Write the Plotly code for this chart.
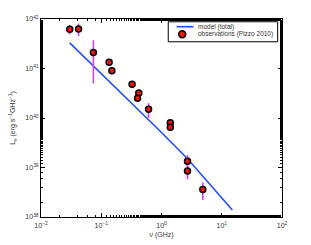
import plotly.graph_objects as go

# observations (Pizzo 2010)
obs_nu = [0.030, 0.042, 0.074, 0.135, 0.150, 0.325, 0.42, 0.40, 0.61, 1.40, 1.40, 2.70, 2.70, 4.85]
obs_L = [6.2e41, 6.3e41, 2.1e41, 1.33e41, 9.0e40, 4.8e40, 3.2e40, 2.5e40, 1.5e40, 8.0e39, 6.5e39, 1.33e39, 8.5e38, 3.6e38]
obs_err = [1.3e41, 1.8e41, 1.6e41, 5e39, 4e39, 2e39, 1.5e39, 1.2e39, 0.5e40, 0.4e39, 0.3e39, 0.45e39, 0.27e39, 1.4e38]

# model (total)
model_nu = [0.03, 0.3, 1.0, 2.7, 6.8, 15.0]
model_L = [3.3e41, 2.15e40, 5.1e39, 1.5e39, 4.1e38, 1.38e38]

xticks = [0.01, 0.1, 1, 10, 100]
xticklabels = ["10<sup>−2</sup>", "10<sup>−1</sup>", "10<sup>0</sup>", "10<sup>1</sup>", "10<sup>2</sup>"]
yticks = [1e38, 1e39, 1e40, 1e41, 1e42]
yticklabels = ["10<sup>38</sup>", "10<sup>39</sup>", "10<sup>40</sup>", "10<sup>41</sup>", "10<sup>42</sup>"]

legend_labels = ["model (total)", "observations (Pizzo 2010)"]

font = "Liberation Sans, Arial, sans-serif"
txtcol = "#333333"
line_col = "#2450f0"
mk_col = "#ee1111"

fig = go.Figure()
fig.add_trace(go.Scatter(
    x=model_nu, y=model_L, mode="lines", name=legend_labels[0],
    line=dict(color=line_col, width=1.6), showlegend=False,
))
fig.add_trace(go.Scatter(
    x=obs_nu, y=obs_L, mode="markers", name=legend_labels[1],
    marker=dict(color=mk_col, size=6, line=dict(color="black", width=1.5)),
    error_y=dict(type="data", array=obs_err, color="#cc44ee", thickness=1.6, width=0),
    showlegend=False,
))

axis_common = dict(
    type="log", showgrid=False, zeroline=False, automargin=False,
    showline=True, linecolor="black", linewidth=1, mirror="ticks",
    ticks="inside", ticklen=4, tickcolor="black",
    tickfont=dict(size=7, color=txtcol, family=font),
    minor=dict(ticks="inside", ticklen=2, tickcolor="black"),
)

fig.update_xaxes(
    **axis_common, range=[-2, 2], tickvals=xticks, ticktext=xticklabels,
    ticklabelstandoff=2,
    title=dict(text="ν (GHz)", font=dict(size=7, color=txtcol, family=font), standoff=3),
)
fig.update_yaxes(
    **axis_common, range=[38, 42], tickvals=yticks, ticktext=yticklabels,
    title=dict(text="L<sub>ν</sub> (erg s<sup>−1</sup>GHz<sup>−1</sup>)",
               font=dict(size=7, color=txtcol, family=font), standoff=8),
)

# legend box drawn in paper coordinates
lx0, lx1, ly0, ly1 = 0.528, 0.982, 0.885, 0.986
fig.add_shape(type="rect", xref="paper", yref="paper", x0=lx0, x1=lx1, y0=ly0, y1=ly1,
              line=dict(color="black", width=1), fillcolor="white", layer="above")
fig.add_shape(type="line", xref="paper", yref="paper", x0=0.563, x1=0.633, y0=0.961, y1=0.961,
              line=dict(color=line_col, width=1.6), layer="above")
fig.add_shape(type="circle", xref="paper", yref="paper", xsizemode="pixel", ysizemode="pixel",
              xanchor=0.586, yanchor=0.923, x0=-3.5, x1=3.5, y0=-3.5, y1=3.5,
              fillcolor=mk_col, line=dict(color="black", width=1.5), layer="above")
for lab, yy in zip(legend_labels, [0.961, 0.923]):
    fig.add_annotation(xref="paper", yref="paper", x=0.642, y=yy, text=lab, showarrow=False,
                       xanchor="left", yanchor="middle",
                       font=dict(size=6.5, color=txtcol, family=font))

# page body has an 8px default margin, so the figure is sized to leave the plot box
# at the reference position inside the 311x245 window
fig.update_layout(
    width=303, height=237,
    margin=dict(l=33, r=29, t=11, b=28),
    paper_bgcolor="white", plot_bgcolor="white",
    font=dict(family=font, size=7, color=txtcol),
    showlegend=False,
)

fig.write_html("out.html")
